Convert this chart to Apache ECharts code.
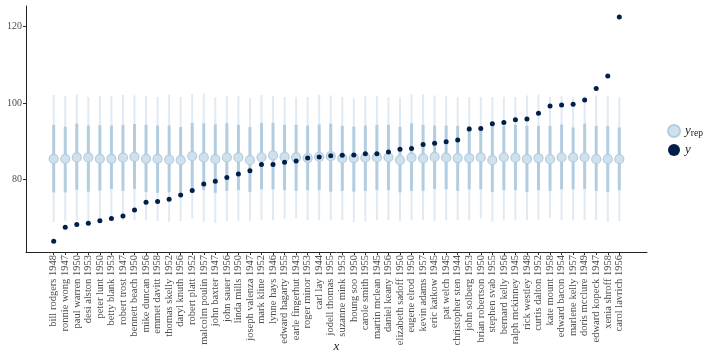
<!DOCTYPE html>
<html>
<head>
<meta charset="utf-8">
<script src="https://cdn.jsdelivr.net/npm/echarts@6/dist/echarts.min.js"></script>
<style>html,body{margin:0;padding:0;background:#fff}#c{width:720px;height:360px}</style>
</head>
<body>
<div id="c"></div>
<script>
const names = ["bill rodgers 1948","ronnie wong 1947","paul warren 1950","desi alston 1953","peter lunt 1950","betty blank 1953","robert trost 1947","bennett beach 1950","mike duncan 1956","emmet davitt 1958","thomas skelly 1952","daryl knuth 1956","robert platt 1952","malcolm poulin 1957","john baxter 1947","john sauer 1956","linda mills 1950","joseph valenza 1947","mark kline 1952","lynne hays 1946","edward hagarty 1955","earle fingerhut 1943","roger minor 1953","carl lay 1944","jodell thomas 1955","suzanne mink 1953","houng soo 1950","carole smith 1955","martin mclean 1945","daniel keany 1956","elizabeth sadoff 1950","eugene elrod 1950","kevin adams 1957","eric katkow 1945","pat welch 1945","christopher sten 1944","john solberg 1953","brian robertson 1950","stephen svab 1955","bernard kelly 1956","ralph mckinney 1945","rick westley 1948","curtis dalton 1952","kate mount 1958","edward bacon 1954","marlene kelly 1957","doris mcclure 1949","edward kopeck 1947","xenia shroff 1958","carol lavrich 1956"];
const yObs = [63.8,67.5,68.2,68.5,69.2,69.8,70.4,72.0,74.0,74.2,74.8,75.9,77.1,78.8,79.5,80.5,81.4,82.3,83.9,83.9,84.5,84.8,85.6,85.9,86.2,86.3,86.4,86.7,86.7,87.15,87.9,88.1,89.15,89.5,89.85,90.3,93.2,93.35,94.6,94.9,95.6,95.8,97.3,99.2,99.5,99.7,100.8,103.8,107.1,122.5];
const yrepMed = [85.4,85.4,85.75,85.75,85.4,85.4,85.7,85.9,85.4,85.4,85.2,85.05,86.1,85.75,85.3,85.75,85.75,85.05,85.8,86.3,85.9,85.75,85.6,85.9,86.1,85.5,85.6,85.7,85.75,85.8,85.05,85.7,85.5,85.9,85.7,85.6,85.6,85.75,85.05,85.8,85.7,85.3,85.6,85.3,85.8,85.75,85.8,85.3,85.3,85.3];
const innerHi = [94.3,93.8,94.6,94.1,94.2,94.1,94.3,94.5,94.3,94.1,94.1,93.7,94.8,94.7,94.4,94.7,94.3,93.7,94.8,94.8,94.3,94.3,94.1,94.4,94.6,94.0,93.8,94.1,94.3,94.3,93.8,94.7,94.3,94.1,94.1,94.0,94.0,93.8,94.0,94.0,94.3,94.0,94.0,94.0,94.4,93.6,94.6,94.0,94.0,93.6];
const innerLo = [76.6,76.6,77.3,76.8,77.1,77.5,77.0,77.5,76.7,76.5,76.6,76.7,77.0,77.2,76.5,77.0,77.2,76.75,77.4,77.4,77.2,77.0,77.2,77.2,76.8,77.0,76.8,77.0,77.2,77.2,76.6,77.0,77.0,77.5,77.4,77.0,77.4,77.4,76.7,77.2,77.2,76.7,77.2,77.0,77.4,77.4,77.5,77.0,76.7,77.2];
const outerHi = [102.1,101.9,102.2,101.6,101.9,101.9,102.1,102.0,101.9,101.6,102.2,101.6,102.3,102.5,101.5,101.8,101.8,101.3,102.1,101.8,101.6,101.6,101.6,102.2,102.0,101.6,101.2,101.8,101.9,101.5,101.5,102.3,102.3,102.0,101.8,101.5,101.6,101.6,101.6,101.6,101.6,102.0,102.2,101.6,101.8,101.6,101.8,102.0,101.8,101.5];
const outerLo = [68.8,69.2,69.3,69.0,69.2,69.1,69.3,69.3,69.3,69.1,68.9,69.1,69.7,68.9,68.6,69.1,69.15,69.15,69.4,69.3,69.6,69.8,69.3,69.3,69.3,69.3,68.8,69.0,69.3,69.3,69.15,69.3,69.3,69.15,69.3,69.3,69.3,69.85,68.9,69.3,69.3,69.3,69.5,69.9,69.3,69.3,69.3,69.3,68.9,69.1];
const yTicks = [80, 100, 120];

const idx = names.map((_, i) => i);
const intervalData = idx.map(i => [i, outerLo[i], outerHi[i], innerLo[i], innerHi[i]]);
const serif = '"Liberation Serif", "DejaVu Serif", serif';

const chart = echarts.init(document.getElementById('c'));
chart.setOption({
  animation: false,
  grid: { left: 26, right: 73, top: 6, bottom: 108, containLabel: false, outerBoundsMode: 'none' },
  xAxis: {
    type: 'value', min: -2.4, max: 51.4,
    name: 'x', nameLocation: 'middle', nameGap: 88, nameMoveOverlap: false,
    nameTextStyle: { fontFamily: serif, fontStyle: 'italic', fontSize: 13, color: '#222' },
    splitLine: { show: false },
    axisLine: { show: true, onZero: false, lineStyle: { color: '#222', width: 1 } },
    axisTick: { show: true, customValues: idx, length: 3, lineStyle: { color: '#333' } },
    axisLabel: {
      customValues: idx, rotate: 90, margin: 3,
      fontFamily: serif, fontSize: 10.5, color: '#4d4d4d',
      formatter: v => names[Math.round(v)] || ''
    }
  },
  yAxis: {
    type: 'value', min: 61.0, max: 125.4,
    splitLine: { show: false },
    axisLine: { show: true, onZero: false, lineStyle: { color: '#222', width: 1 } },
    axisTick: { show: true, customValues: yTicks, length: 3, lineStyle: { color: '#333' } },
    axisLabel: { customValues: yTicks, margin: 4, fontFamily: serif, fontSize: 10, color: '#4d4d4d' }
  },
  legend: {
    orient: 'vertical', left: 662, top: 119, itemGap: 5,
    itemWidth: 12, itemHeight: 12,
    data: [{ name: 'y_rep', icon: 'circle' }, { name: 'y', icon: 'circle' }],
    formatter: n => n === 'y_rep' ? '{i|y}{s|rep}' : '{i|y}',
    textStyle: {
      rich: {
        i: { fontFamily: serif, fontStyle: 'italic', fontSize: 13, color: '#222' },
        s: { fontFamily: serif, fontSize: 9.5, color: '#222', padding: [5, 0, 0, 0] }
      }
    }
  },
  series: [
    {
      type: 'custom', name: 'intervals', z: 1,
      data: intervalData,
      encode: { x: 0, y: [1, 2, 3, 4] },
      renderItem: (params, api) => {
        const x = api.value(0);
        const o1 = api.coord([x, api.value(1)]);
        const o2 = api.coord([x, api.value(2)]);
        const i1 = api.coord([x, api.value(3)]);
        const i2 = api.coord([x, api.value(4)]);
        return {
          type: 'group',
          children: [
            { type: 'line', shape: { x1: o1[0], y1: o1[1], x2: o2[0], y2: o2[1] }, style: { stroke: '#e0eaf3', lineWidth: 2 } },
            { type: 'line', shape: { x1: i1[0], y1: i1[1], x2: i2[0], y2: i2[1] }, style: { stroke: '#b3cde0', lineWidth: 3 } }
          ]
        };
      }
    },
    {
      type: 'scatter', name: 'y_rep', z: 2,
      data: idx.map(i => [i, yrepMed[i]]),
      symbol: 'circle', symbolSize: 9,
      itemStyle: { color: '#d1e1ec', borderColor: '#b3cde0', borderWidth: 1.2, opacity: 1 }
    },
    {
      type: 'scatter', name: 'y', z: 3,
      data: idx.map(i => [i, yObs[i]]),
      symbol: 'circle', symbolSize: 5,
      itemStyle: { color: '#011f4b', opacity: 1 }
    }
  ]
});
</script>
</body>
</html>
